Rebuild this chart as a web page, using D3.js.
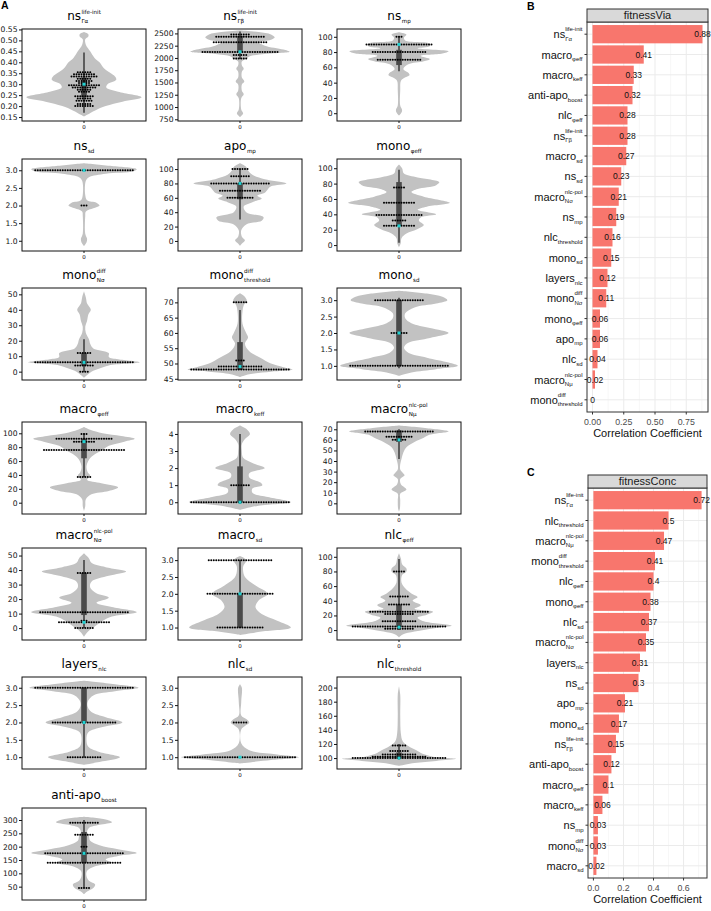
<!DOCTYPE html>
<html>
<head>
  <script src="https://d3js.org/d3.v7.min.js"></script>
  <style>
    body { margin: 0; background: #fff; }
    svg { display: block; }
  </style>
</head>
<body>
<div id="chart"></div>
<script>
// ---------- panel A data ----------
var violinTitles = [
  ["ns","Γα","life-init"], ["ns","Γβ","life-init"], ["ns","mp",""],
  ["ns","sd",""], ["apo","mp",""], ["mono","φeff",""],
  ["mono","Nσ","diff"], ["mono","threshold","diff"], ["mono","sd",""],
  ["macro","φeff",""], ["macro","keff",""], ["macro","Nμ","nlc-pol"],
  ["macro","Nσ","nlc-pol"], ["macro","sd",""], ["nlc","φeff",""],
  ["layers","nlc",""], ["nlc","sd",""], ["nlc","threshold",""],
  ["anti-apo","boost",""]
];
var violinDomains = [
  [0.132,0.552],[715,2590],[-10.2,110.2],
  [0.71,3.32],[-14,114],[-7.7,112],
  [-5.4,54.1],[44.6,74.7],[0.57,3.37],
  [-16.3,116.3],[-0.69,4.7],[-10.1,76.9],
  [-8.2,55.2],[0.63,3.36],[-13.5,112],
  [0.66,3.31],[0.66,3.31],[84.5,215],
  [0,345]
];
var violinTicks = [
  [0.15,0.2,0.25,0.3,0.35,0.4,0.45,0.5,0.55],
  [750,1000,1250,1500,1750,2000,2250,2500],
  [0,20,40,60,80,100],
  [1,1.5,2,2.5,3],
  [0,20,40,60,80,100],
  [0,20,40,60,80,100],
  [0,10,20,30,40,50],
  [45,50,55,60,65,70],
  [1,1.5,2,2.5,3],
  [0,20,40,60,80,100],
  [0,1,2,3,4],
  [0,10,20,30,40,50,60,70],
  [0,10,20,30,40,50],
  [1,1.5,2,2.5,3],
  [0,20,40,60,80,100],
  [1,1.5,2,2.5,3],
  [1,1.5,2,2.5,3],
  [100,120,140,160,180,200],
  [50,100,150,200,250,300]
];
var violinFormats = [".2f","d","d",".1f","d","d","d","d",".1f","d","d","d","d",".1f","d",".1f",".1f","d","d"];

// density outline: [value, relative half width]
var violinShapes = [
  [[0.538,0],[0.528,0.07],[0.518,0.07],[0.505,0.02],[0.48,0.03],[0.45,0.1],[0.42,0.17],[0.4,0.25],[0.37,0.33],[0.335,0.5],[0.32,0.52],[0.3,0.38],[0.285,0.36],[0.265,0.55],[0.24,0.93],[0.22,0.62],[0.2,0.35],[0.18,0.18],[0.16,0.05],[0.152,0]],
  [[2560,0],[2530,0.3],[2480,0.5],[2420,0.56],[2370,0.5],[2320,0.3],[2250,0.4],[2170,0.7],[2125,0.8],[2080,0.4],[2030,0.15],[1980,0.1],[1930,0.03],[1850,0.03],[1780,0.06],[1720,0.03],[1600,0.03],[1520,0.07],[1460,0.03],[1330,0.03],[1260,0.06],[1180,0.02],[950,0.02],[870,0.05],[820,0.02],[790,0]],
  [[106,0],[103,0.12],[99,0.08],[95,0.1],[91,0.5],[88,0.5],[85,0.3],[81,0.8],[78,0.7],[75,0.35],[71,0.5],[68,0.4],[64,0.15],[58,0.07],[53,0.15],[50,0.17],[46,0.08],[42,0.03],[30,0.02],[10,0.02],[4,0.05],[1,0.04],[-3,0]],
  [[3.2,0],[3.12,0.45],[3.03,0.85],[2.97,0.8],[2.9,0.35],[2.8,0.08],[2.7,0.03],[2.3,0.02],[2.15,0.05],[2.08,0.2],[2,0.25],[1.92,0.15],[1.83,0.03],[1.7,0.02],[1.2,0.02],[1.05,0.05],[0.95,0.04],[0.85,0]],
  [[108,0],[103,0.1],[98,0.13],[92,0.2],[86,0.4],[80,0.75],[76,0.5],[72,0.45],[67,0.4],[63,0.28],[59,0.35],[54,0.2],[48,0.06],[40,0.1],[33,0.38],[28,0.35],[23,0.1],[15,0.02],[6,0.03],[1,0.08],[-3,0.04],[-7,0]],
  [[105,0],[100,0.05],[93,0.08],[88,0.3],[82,0.65],[78,0.6],[73,0.3],[69,0.2],[63,0.4],[55,0.82],[50,0.45],[46,0.3],[40,0.6],[36,0.35],[32,0.32],[26,0.4],[21,0.3],[15,0.12],[9,0.04],[3,0.03],[-3,0]],
  [[52,0],[48,0.03],[44,0.05],[40,0.11],[37,0.07],[33,0.05],[29,0.02],[25,0.03],[21,0.08],[18,0.1],[15,0.15],[12,0.4],[9.5,0.4],[8,0.55],[6,0.9],[4,0.4],[2,0.25],[0,0.12],[-2.5,0.04],[-4,0]],
  [[73,0],[72,0.07],[70.5,0.11],[69,0.06],[67,0.04],[63,0.04],[60,0.1],[58.5,0.13],[56.5,0.08],[54,0.15],[52,0.32],[50,0.5],[48.8,0.7],[48,0.85],[47.3,0.5],[46.5,0.15],[45.6,0]],
  [[3.29,0],[3.2,0.45],[3.1,0.7],[3,0.78],[2.9,0.6],[2.78,0.25],[2.6,0.1],[2.45,0.1],[2.3,0.2],[2.15,0.5],[2,0.8],[1.85,0.5],[1.7,0.15],[1.55,0.08],[1.4,0.15],[1.25,0.45],[1.1,0.8],[1,0.95],[0.9,0.6],[0.8,0.2],[0.7,0]],
  [[109,0],[105,0.1],[100,0.3],[96,0.6],[92,0.82],[88,0.65],[82,0.4],[76,0.3],[70,0.18],[62,0.08],[52,0.04],[44,0.06],[39,0.1],[33,0.05],[28,0.28],[22,0.55],[17,0.4],[12,0.12],[5,0.03],[-5,0.02],[-12,0]],
  [[4.5,0],[4.3,0.1],[4,0.16],[3.7,0.08],[3.4,0.03],[3,0.03],[2.6,0.05],[2.3,0.2],[2,0.4],[1.7,0.15],[1.45,0.15],[1.15,0.33],[1,0.36],[0.8,0.2],[0.55,0.2],[0.3,0.45],[0,0.82],[-0.2,0.3],[-0.45,0]],
  [[73.5,0],[71,0.45],[68,0.8],[65,0.5],[62,0.4],[58,0.25],[53,0.12],[48,0.07],[42,0.04],[37,0.02],[32,0.02],[29,0.06],[26.5,0.09],[23,0.02],[18,0.03],[13,0.12],[9,0.02],[3,0.02],[-5,0.015],[-8,0]],
  [[51.5,0],[48,0.08],[45,0.12],[42,0.35],[39,0.68],[36,0.4],[32,0.12],[28,0.1],[24,0.2],[21,0.4],[17.5,0.2],[14.5,0.45],[11,0.85],[8,0.45],[5,0.3],[2,0.2],[-1,0.1],[-4,0.03],[-6,0]],
  [[3.12,0],[3,0.1],[2.8,0.05],[2.5,0.08],[2.25,0.25],[2,0.45],[1.8,0.3],[1.6,0.25],[1.4,0.35],[1.2,0.6],[1,0.82],[0.88,0.35],[0.78,0]],
  [[105,0],[98,0.03],[90,0.05],[84,0.12],[80,0.12],[75,0.05],[65,0.04],[57,0.1],[50,0.2],[45,0.3],[40,0.22],[34,0.35],[29,0.25],[25,0.55],[21,0.45],[17,0.3],[12,0.4],[6,0.85],[3,0.6],[-2,0.25],[-6,0.06],[-10,0]],
  [[3.2,0],[3.1,0.5],[3,0.88],[2.9,0.5],[2.78,0.15],[2.6,0.06],[2.45,0.06],[2.3,0.12],[2.15,0.35],[2,0.62],[1.87,0.3],[1.72,0.07],[1.5,0.04],[1.3,0.07],[1.15,0.25],[1,0.58],[0.88,0.3],[0.78,0]],
  [[3.1,0],[3,0.03],[2.6,0.02],[2.2,0.02],[2.1,0.1],[2,0.15],[1.9,0.08],[1.8,0.02],[1.4,0.02],[1.2,0.15],[1.08,0.6],[1,0.95],[0.92,0.5],[0.82,0]],
  [[202,0],[190,0.02],[160,0.02],[135,0.03],[124,0.06],[117,0.15],[111,0.28],[106,0.38],[102,0.55],[99,0.92],[96,0.6],[93,0.25],[89,0]],
  [[312,0],[302,0.35],[292,0.45],[282,0.25],[270,0.08],[255,0.05],[240,0.08],[222,0.1],[205,0.25],[190,0.55],[176,0.85],[165,0.55],[152,0.35],[140,0.45],[127,0.18],[110,0.05],[90,0.04],[72,0.08],[58,0.18],[45,0.15],[32,0.05],[22,0]]
];
// [q1, q3, whisker low, whisker high, median]
var violinBoxes = [
  [0.24,0.33,0.17,0.445,0.30],[2110,2450,1980,2540,2125],[63,83,55,100,90],
  [3,3,3,3,3],[58,80,30,100,80],[25,82,3,98,25],
  [4,12,0,21,6],[48,57,48,67.5,49],[1,3,0.93,3.07,2],
  [64,92,37,100,88],[0,2.1,-0.1,4,0],[58,69,42,70,60],
  [9,38,0,47,4],[1,2,1,3,2],[4,35,0,97,4],
  [2,3,1,3,2],[1,1,1,1,1],[99,108,98,120,100],
  [140,255,45,300,175]
];
// swarm rows: [value, number of points]
var violinDots = [
  [[0.355,6],[0.345,9],[0.335,11],[0.325,6],[0.315,7],[0.305,5],[0.295,13],[0.285,10],[0.275,6],[0.265,5],[0.245,8],[0.235,6],[0.225,7],[0.21,6],[0.2,8]],
  [[2480,8],[2430,20],[2320,22],[2120,31],[2060,6],[1990,6]],
  [[100,3],[90,27],[80,22],[70,18]],
  [[3,40],[2,3]],
  [[100,7],[90,8],[80,24],[70,17],[60,11]],
  [[75,5],[55,13],[39,19],[32,6],[25,13]],
  [[12,6],[6,40],[4,8],[0,4]],
  [[70,6],[51,4],[49,18],[48,40]],
  [[3,20],[2,7],[1,40]],
  [[99,3],[92,23],[88,9],[76,33],[37,6]],
  [[1,8],[0,40]],
  [[68,28],[63,11],[60,6]],
  [[38,6],[11,36],[5,3],[4,21],[0,8]],
  [[3,26],[2,27],[1,19]],
  [[80,5],[46,8],[35,9],[25,24],[22,12],[12,14],[5,38],[2,12]],
  [[3,40],[2,26],[1,14]],
  [[2,6],[1,45]],
  [[118,6],[110,8],[105,14],[102,22],[100,38]],
  [[290,12],[245,8],[200,3],[175,32],[140,30],[45,5]]
];

// ---------- panels B and C data ----------
var viaLabels = [
  ["ns","Γα","life-init"], ["macro","φeff",""], ["macro","keff",""], ["anti-apo","boost",""],
  ["nlc","φeff",""], ["ns","Γβ","life-init"], ["macro","sd",""], ["ns","sd",""],
  ["macro","Nσ","nlc-pol"], ["ns","mp",""], ["nlc","threshold",""], ["mono","sd",""],
  ["layers","nlc",""], ["mono","Nσ","diff"], ["mono","φeff",""], ["apo","mp",""],
  ["nlc","sd",""], ["macro","Nμ","nlc-pol"], ["mono","threshold","diff"]
];
var viaValues = [0.88,0.41,0.33,0.32,0.28,0.28,0.27,0.23,0.21,0.19,0.16,0.15,0.12,0.11,0.06,0.06,0.04,0.02,0];
var viaTicks = [0,0.25,0.5,0.75];

var concLabels = [
  ["ns","Γα","life-init"], ["nlc","threshold",""], ["macro","Nμ","nlc-pol"], ["mono","threshold","diff"],
  ["nlc","φeff",""], ["mono","φeff",""], ["nlc","sd",""], ["macro","Nσ","nlc-pol"],
  ["layers","nlc",""], ["ns","sd",""], ["apo","mp",""], ["mono","sd",""],
  ["ns","Γβ","life-init"], ["anti-apo","boost",""], ["macro","φeff",""], ["macro","keff",""],
  ["ns","mp",""], ["mono","Nσ","diff"], ["macro","sd",""]
];
var concValues = [0.72,0.5,0.47,0.41,0.4,0.38,0.37,0.35,0.31,0.3,0.21,0.17,0.15,0.12,0.1,0.06,0.03,0.03,0.02];
var concTicks = [0,0.2,0.4,0.6];

// ---------- canvas ----------
var width = 711, height = 911;
var svg = d3.select("#chart").append("svg")
  .attr("width", width).attr("height", height);

// text with stacked subscript / superscript
function richLabel(g, spec, o) {
  var t = g.append("g").attr("font-family", o.family).attr("fill", o.fill || "#000");
  var b = t.append("text").attr("font-size", o.size).text(spec[0]);
  var bw = b.node().getComputedTextLength();
  var sw = 0, pw = 0;
  if (spec[1]) {
    var s = t.append("text").attr("x", bw + o.gap).attr("y", o.dySub)
      .attr("font-size", o.small).text(spec[1]);
    sw = s.node().getComputedTextLength() + o.gap;
  }
  if (spec[2]) {
    var p = t.append("text").attr("x", bw + o.gap).attr("y", o.dySup)
      .attr("font-size", o.small).text(spec[2]);
    pw = p.node().getComputedTextLength() + o.gap;
  }
  var w = bw + Math.max(sw, pw);
  var x0 = o.anchor === "end" ? o.x - w : (o.anchor === "middle" ? o.x - w / 2 : o.x);
  t.attr("transform", "translate(" + x0 + "," + o.y + ")");
}

// ---------- panel A: violins ----------
var colX = [22, 178, 337];
var rowY = [29, 159, 288, 422, 548, 677, 808];
var boxW = 124, boxH = 92, hw = 62;

violinTitles.forEach(function(title, i) {
  var x0 = colX[i % 3], y0 = rowY[Math.floor(i / 3)];
  var cx = x0 + boxW / 2;
  var y = d3.scaleLinear().domain(violinDomains[i]).range([y0 + boxH, y0]);
  var g = svg.append("g");

  g.append("clipPath").attr("id", "clip" + i)
    .append("rect").attr("x", x0).attr("y", y0).attr("width", boxW).attr("height", boxH);
  var inner = g.append("g").attr("clip-path", "url(#clip" + i + ")");

  var area = d3.area()
    .curve(d3.curveCatmullRom)
    .y(function(d) { return y(d[0]); })
    .x0(function(d) { return cx - d[1] * hw; })
    .x1(function(d) { return cx + d[1] * hw; });
  inner.append("path").datum(violinShapes[i])
    .attr("d", area).attr("fill", "#c2c2c2");

  var b = violinBoxes[i];
  inner.append("line")
    .attr("x1", cx).attr("x2", cx)
    .attr("y1", y(b[2])).attr("y2", y(b[3]))
    .attr("stroke", "#3a3a3a").attr("stroke-width", 1.5);
  inner.append("rect")
    .attr("x", cx - 2.8).attr("width", 5.6)
    .attr("y", y(b[1])).attr("height", Math.max(0, y(b[0]) - y(b[1])))
    .attr("fill", "#4a4a4a");

  var pts = [];
  violinDots[i].forEach(function(r) {
    for (var k = 0; k < r[1]; k++) pts.push({v: r[0], k: k - (r[1] - 1) / 2});
  });
  inner.selectAll("circle.dot").data(pts).enter().append("circle")
    .attr("class", "dot")
    .attr("cx", function(d) { return cx + d.k * 2.5; })
    .attr("cy", function(d) { return y(d.v); })
    .attr("r", 1)
    .attr("fill", "#000");

  inner.append("rect")
    .attr("x", cx - 1.5).attr("y", y(b[4]) - 1.5)
    .attr("width", 3).attr("height", 3)
    .attr("fill", "#22d3d3");

  g.append("rect")
    .attr("x", x0).attr("y", y0).attr("width", boxW).attr("height", boxH)
    .attr("fill", "none").attr("stroke", "#111").attr("stroke-width", 1);

  var ax = g.append("g")
    .attr("transform", "translate(" + x0 + ",0)")
    .call(d3.axisLeft(y).tickValues(violinTicks[i])
      .tickFormat(d3.format(violinFormats[i])).tickSize(3).tickPadding(1.5));
  ax.select(".domain").remove();
  ax.selectAll("line").attr("stroke", "#111");
  ax.selectAll("text").attr("font-size", 7.6).attr("font-family", "DejaVu Sans").attr("fill", "#111");

  g.append("line").attr("x1", cx).attr("x2", cx)
    .attr("y1", y0 + boxH).attr("y2", y0 + boxH + 2).attr("stroke", "#111");
  g.append("text").attr("x", cx).attr("y", y0 + boxH + 8)
    .attr("text-anchor", "middle").attr("font-size", 5.5)
    .attr("font-family", "DejaVu Sans").text("0");

  richLabel(g, title, {
    x: cx, y: y0 - 9.5, anchor: "middle", family: "DejaVu Sans",
    size: 12, small: 5.6, dySub: 3.3, dySup: -5.8, gap: 0.5
  });
});

// ---------- panels B and C: bars ----------
function barPanel(labels, values, ticks, fmt, box, stripText) {
  var g = svg.append("g");
  var x = d3.scaleLinear()
    .domain([-0.05 * d3.max(values), 1.05 * d3.max(values)])
    .range([box.left, box.right]);
  var u = (box.bottom - box.top) / 19.2;
  var y = d3.scaleBand().domain(d3.range(labels.length))
    .range([box.top + 0.1 * u, box.bottom - 0.1 * u])
    .paddingInner(0.1).paddingOuter(0.05);

  g.append("rect").attr("x", box.left).attr("y", box.top)
    .attr("width", box.right - box.left).attr("height", box.bottom - box.top)
    .attr("fill", "#fff");

  var minor = [];
  for (var k = 0; k < ticks.length; k++) {
    var step = ticks[1] - ticks[0];
    minor.push(ticks[k] + step / 2);
  }
  g.selectAll("line.minor").data(minor.filter(function(v) { return x(v) < box.right; }))
    .enter().append("line")
    .attr("x1", function(d) { return x(d); }).attr("x2", function(d) { return x(d); })
    .attr("y1", box.top).attr("y2", box.bottom)
    .attr("stroke", "#f2f2f2").attr("stroke-width", 0.6);
  g.selectAll("line.major").data(ticks).enter().append("line")
    .attr("x1", function(d) { return x(d); }).attr("x2", function(d) { return x(d); })
    .attr("y1", box.top).attr("y2", box.bottom)
    .attr("stroke", "#ebebeb").attr("stroke-width", 1);
  g.selectAll("line.hgrid").data(labels).enter().append("line")
    .attr("x1", box.left).attr("x2", box.right)
    .attr("y1", function(d, i) { return y(i) + y.bandwidth() / 2; })
    .attr("y2", function(d, i) { return y(i) + y.bandwidth() / 2; })
    .attr("stroke", "#ebebeb").attr("stroke-width", 1);

  g.selectAll("rect.bar").data(values).enter().append("rect")
    .attr("x", x(0))
    .attr("y", function(d, i) { return y(i); })
    .attr("width", function(d) { return x(d) - x(0); })
    .attr("height", y.bandwidth())
    .attr("fill", "#F8766D");

  g.selectAll("text.val").data(values).enter().append("text")
    .attr("x", function(d) { return x(d); })
    .attr("y", function(d, i) { return y(i) + y.bandwidth() / 2 + 3; })
    .attr("text-anchor", "middle")
    .attr("font-family", "Liberation Sans").attr("font-size", 8.5)
    .attr("fill", "#111")
    .text(function(d) { return String(d); });

  g.append("rect").attr("x", box.left).attr("y", box.top)
    .attr("width", box.right - box.left).attr("height", box.bottom - box.top)
    .attr("fill", "none").attr("stroke", "#333").attr("stroke-width", 1);

  // strip
  g.append("rect").attr("x", box.left).attr("y", box.strip)
    .attr("width", box.right - box.left).attr("height", box.top - box.strip)
    .attr("fill", "#d9d9d9").attr("stroke", "#333").attr("stroke-width", 1);
  g.append("text").attr("x", (box.left + box.right) / 2).attr("y", box.top - 2.6)
    .attr("text-anchor", "middle").attr("font-family", "Liberation Sans")
    .attr("font-size", 11).attr("fill", "#1a1a1a").text(stripText);

  // y axis labels
  labels.forEach(function(l, i) {
    var cy = y(i) + y.bandwidth() / 2;
    g.append("line").attr("x1", box.left - 2.5).attr("x2", box.left)
      .attr("y1", cy).attr("y2", cy).attr("stroke", "#333");
    richLabel(g, l, {
      x: box.left - 4.5, y: cy + 4, anchor: "end", family: "Liberation Sans",
      fill: "#111", size: 11, small: 6, dySub: 2.6, dySup: -7, gap: 0
    });
  });

  // x axis
  ticks.forEach(function(t) {
    g.append("line").attr("x1", x(t)).attr("x2", x(t))
      .attr("y1", box.bottom).attr("y2", box.bottom + 2.5).attr("stroke", "#333");
    g.append("text").attr("x", x(t)).attr("y", box.bottom + 12.5)
      .attr("text-anchor", "middle").attr("font-family", "Liberation Sans")
      .attr("font-size", 8.8).attr("fill", "#4d4d4d").text(d3.format(fmt)(t));
  });
  g.append("text").attr("x", (box.left + box.right) / 2).attr("y", box.bottom + 25)
    .attr("text-anchor", "middle").attr("font-family", "Liberation Sans")
    .attr("font-size", 11).attr("fill", "#111").text("Correlation Coefficient");
}

barPanel(viaLabels, viaValues, viaTicks, ".2f",
  {left: 587, right: 708, top: 22, bottom: 412, strip: 9}, "fitnessVia");
barPanel(concLabels, concValues, concTicks, ".1f",
  {left: 588, right: 707, top: 488, bottom: 878, strip: 475}, "fitnessConc");

// panel letters
[["A", 1, 9], ["B", 527, 10], ["C", 527, 476]].forEach(function(p) {
  svg.append("text").attr("x", p[1]).attr("y", p[2])
    .attr("font-family", "Liberation Sans").attr("font-weight", "bold")
    .attr("font-size", 10.5).text(p[0]);
});
</script>
</body>
</html>
